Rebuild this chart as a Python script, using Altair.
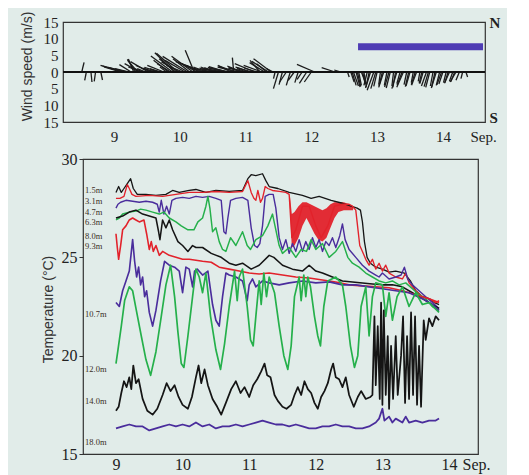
import altair as alt
import pandas as pd

# ---------------- top panel: wind sticks (origin day, east m/s, north m/s)
wind_sticks = [
    (8.51, 0.7, 2.9), (8.58, -0.5, -2.5), (8.65, 0.3, -3.0), (8.72, -0.4, -2.8), (8.80, 0.5, -2.4),
    (9.10, -5.0, 1.5), (9.13, -6.0, 1.8), (9.16, -7.2, 2.0), (9.19, -5.5, 1.4), (9.22, -4.0, 1.0),
    (9.26, -3.5, 2.2), (9.30, -1.6, 3.9), (9.33, -2.5, 3.8), (9.36, -3.0, 3.5), (9.39, -4.5, 2.5),
    (9.42, -4.0, 1.5), (9.45, -3.5, 1.3), (9.48, -2.5, 1.0), (9.52, -5.3, 3.1), (9.56, -4.5, 2.0),
    (9.60, -3.0, 1.2), (9.63, -3.8, 1.0), (9.66, -2.0, 0.8), (9.69, -4.5, 1.4), (9.72, -3.5, 1.0),
    (9.76, -5.0, 2.0), (9.80, -2.0, 1.5), (9.83, -4.5, 3.5), (9.86, -4.0, 2.5), (9.89, -6.5, 4.8),
    (9.92, -5.9, 5.75), (9.94, -5.0, 4.0), (9.97, -6.4, 5.6), (10.00, -5.5, 3.0), (10.05, -5.0, 2.0),
    (10.08, -6.0, 3.5), (10.12, -7.5, 4.7), (10.15, -5.0, 4.0), (10.20, -6.4, 4.7), (10.22, -2.7, 6.5),
    (10.26, -5.5, 3.0), (10.30, -4.0, 2.0), (10.33, -6.0, 2.5), (10.37, -8.5, 3.1), (10.41, -4.0, 1.5),
    (10.45, -3.0, 1.2), (10.48, -5.0, 1.0), (10.52, -4.0, 1.5), (10.55, -3.5, 1.3), (10.58, -5.0, 1.0),
    (10.62, -4.5, 1.0), (10.65, -6.0, 1.0), (10.68, -5.0, 1.4), (10.72, -5.5, 1.6), (10.75, -6.0, 1.2),
    (10.78, -4.0, 2.0), (10.82, -0.4, 4.3), (10.85, -5.0, 1.8), (10.88, -6.0, 1.5), (10.92, -3.5, 1.5),
    (10.95, -4.5, 1.8), (10.99, -5.0, 1.2), (11.02, -3.0, 1.0), (11.06, -4.0, 1.4), (11.10, -5.0, 1.5),
    (11.14, -6.0, 2.5), (11.18, -4.0, 1.2), (11.22, -3.0, 3.5), (11.25, -5.5, 2.0), (11.29, -4.5, 2.8),
    (11.32, -3.0, 2.5), (11.35, -5.0, 3.2), (11.39, -5.3, 4.0), (11.42, -2.0, 1.0),
    (11.45, -0.5, -2.0), (11.50, -1.5, -5.0), (11.56, -1.0, -3.8), (11.62, -2.0, -3.0), (11.68, -1.2, -4.0),
    (11.74, -1.8, -2.5), (11.80, -1.0, -3.2), (11.86, -1.5, -2.2), (11.93, -2.2, -3.4), (12.00, -2.1, -3.0),
    (12.05, -5.3, 2.3), (12.36, -4.0, 1.3), (12.45, -2.0, 0.6),
    (12.55, 0.5, -1.5), (12.60, 1.0, -3.0), (12.62, 1.2, -4.0), (12.64, 1.5, -4.2), (12.68, 1.2, -4.5),
    (12.70, 1.0, -4.3), (12.72, 0.8, -4.0), (12.76, 1.5, -3.8), (12.78, 0.8, -3.7), (12.80, 0.5, -3.5),
    (12.85, -1.0, -4.0), (12.88, -1.0, -4.5), (12.90, -1.5, -4.8), (12.95, -2.0, -5.5), (12.98, -1.5, -5.0),
    (13.00, -1.0, -4.3), (13.05, -0.5, -3.8), (13.08, -1.0, -4.2), (13.10, -1.5, -4.6), (13.15, -0.8, -4.0),
    (13.18, -1.3, -4.5), (13.20, -1.2, -4.8), (13.25, -0.5, -4.2), (13.28, -0.8, -4.6), (13.30, -1.5, -5.0),
    (13.35, -1.0, -3.5), (13.38, -1.5, -4.0), (13.40, -2.0, -4.6), (13.45, -0.8, -3.8), (13.48, -1.0, -4.4),
    (13.50, -1.2, -4.2), (13.55, -0.6, -3.2), (13.58, -1.2, -3.8), (13.60, -1.5, -4.0), (13.65, -0.5, -2.8),
    (13.68, -0.8, -3.4), (13.70, -1.0, -3.5), (13.75, -1.5, -4.2), (13.78, -1.3, -4.4), (13.80, -1.2, -4.6),
    (13.85, -0.8, -4.2), (13.88, -1.0, -4.5), (13.90, -1.5, -4.8), (13.95, -1.0, -4.0), (13.98, -1.4, -3.8),
    (14.00, -1.2, -3.6), (14.05, -0.8, -3.2), (14.08, -1.0, -3.2), (14.10, -1.5, -3.4), (14.15, -1.0, -2.8),
    (14.18, -1.2, -2.9), (14.20, -1.8, -3.0), (14.25, -1.0, -2.5), (14.30, -0.5, -2.0), (14.35, 0.5, -1.5),
]
bar_start = [12.71]
bar_end = [14.61]
bar_level = [7.6]

# ---------------- bottom panel: temperature at depth
depths = ["1.5m", "3.1m", "4.7m", "6.3m", "8.0m", "9.3m", "10.7m", "12.0m", "14.0m", "18.0m"]
depth_colors = ["#151515", "#e2222b", "#4a2d9c", "#25b04b", "#151515",
                "#e2222b", "#4a2d9c", "#25b04b", "#151515", "#4a2d9c"]
depth_widths = [1.3, 1.8, 2.0, 2.4, 1.3, 2.2, 2.2, 2.4, 1.5, 2.2]
label_temps = [28.4, 27.86, 27.3, 26.8, 26.1, 25.6, 22.1, 19.3, 17.7, 15.6]

s_1_5 = [(9.0,28.3),(9.04,28.6),(9.08,28.3),(9.12,28.5),(9.18,28.8),(9.22,29.0),(9.26,28.5),(9.32,28.2),
         (9.45,28.2),(9.6,28.15),(9.75,28.2),(9.85,28.4),(9.95,28.3),(10.1,28.4),(10.2,28.45),(10.35,28.3),
         (10.5,28.4),(10.7,28.35),(10.9,28.4),(10.98,29.0),(11.03,29.2),(11.1,29.15),(11.2,29.25),(11.25,28.9),
         (11.3,28.6),(11.43,28.5),(11.6,28.3),(11.8,28.15),(11.93,28.0),(12.05,28.1),(12.23,27.9),(12.4,27.75),
         (12.53,27.6),(12.62,27.5),(12.67,27.4),(12.7,26.8),(12.73,25.8),(12.77,25.0),(12.82,24.7),(12.9,24.5),
         (13.0,24.4),(13.1,24.25),(13.2,24.3),(13.33,24.2),(13.42,23.8),(13.5,23.3),(13.6,23.0),(13.7,22.9),
         (13.78,22.7),(13.85,22.6)]
s_3_1 = [(9.0,28.0),(9.06,28.0),(9.12,28.1),(9.17,28.7),(9.2,28.5),(9.24,28.2),(9.3,28.1),(9.5,28.15),
         (9.7,28.1),(9.9,28.2),(10.1,28.3),(10.3,28.3),(10.5,28.35),(10.7,28.3),(10.9,28.35),(10.98,28.9),
         (11.03,28.3),(11.07,28.0),(11.1,27.9),(11.13,28.4),(11.17,27.8),(11.2,28.0),(11.24,28.6),(11.28,28.5),
         (11.35,28.4),(11.45,28.35),(11.55,28.3),(11.6,28.2),(11.64,26.0),(11.7,26.4),(11.8,27.6),(11.9,27.6),
         (12.0,26.6),(12.08,26.0),(12.18,26.6),(12.28,27.6),(12.4,27.7),(12.5,27.7),(12.55,27.6),(12.6,27.4),
         (12.63,26.5),(12.66,25.6),(12.7,25.3),(12.75,24.9),(12.8,24.6),(12.85,24.9),(12.9,24.4),(12.95,24.7),
         (13.0,24.3),(13.05,24.6),(13.1,24.2),(13.2,24.0),(13.3,23.9),(13.35,24.2),(13.4,23.7),(13.5,23.3),
         (13.6,23.0),(13.7,22.9),(13.8,22.7),(13.85,22.8)]
# spread of the noisy 3.1 m record on 11.6-12.6 Sep.
band_t = [11.61, 11.64, 11.68, 11.74, 11.8, 11.86, 11.92, 11.98, 12.04, 12.1, 12.16, 12.22, 12.28, 12.34, 12.42, 12.5, 12.56]
band_hi = [28.2, 27.2, 27.3, 27.6, 27.8, 27.8, 27.7, 27.6, 27.5, 27.4, 27.5, 27.7, 27.8, 27.8, 27.8, 27.7, 27.6]
band_lo = [27.6, 25.5, 25.6, 26.0, 26.6, 27.0, 26.6, 26.2, 25.9, 25.8, 26.0, 26.5, 27.0, 27.3, 27.4, 27.4, 27.4]

s_4_7 = [(9.0,27.5),(9.03,27.7),(9.07,27.8),(9.15,27.9),(9.25,27.85),(9.35,27.8),(9.45,27.85),(9.55,27.8),
         (9.62,27.7),(9.65,27.3),(9.68,27.9),(9.72,27.2),(9.76,27.6),(9.8,27.2),(9.84,27.9),(9.9,28.0),
         (10.0,28.05),(10.1,28.0),(10.2,28.1),(10.3,28.05),(10.4,28.1),(10.5,28.0),(10.58,27.9),(10.62,26.3),
         (10.65,26.2),(10.68,27.0),(10.72,27.9),(10.8,28.0),(10.9,28.05),(10.98,27.9),(11.03,26.5),(11.08,25.6),
         (11.12,25.5),(11.16,25.7),(11.2,26.6),(11.24,28.1),(11.3,28.2),(11.36,28.2),(11.4,27.5),(11.45,26.0),
         (11.5,25.4),(11.55,25.9),(11.6,25.2),(11.65,25.7),(11.7,25.3),(11.75,25.9),(11.8,25.3),(11.85,25.8),
         (11.9,25.4),(11.95,26.0),(12.0,25.5),(12.05,25.9),(12.1,25.3),(12.15,25.8),(12.2,25.6),(12.25,26.0),
         (12.3,25.5),(12.36,26.1),(12.4,26.7),(12.44,25.9),(12.5,25.4),(12.6,25.0),(12.7,24.6),(12.8,24.3),
         (12.9,24.1),(12.95,24.0),(13.0,24.2),(13.1,23.9),(13.2,24.0),(13.28,24.1),(13.33,24.5),(13.38,23.9),
         (13.45,23.6),(13.55,23.3),(13.65,23.0),(13.75,22.7),(13.85,22.4)]
s_6_3 = [(9.0,26.9),(9.05,27.0),(9.1,27.2),(9.2,27.3),(9.3,27.35),(9.37,27.45),(9.45,27.4),(9.55,27.3),
         (9.65,27.2),(9.72,27.3),(9.8,27.0),(9.9,26.8),(9.98,26.6),(10.08,26.4),(10.17,26.4),(10.23,26.8),
         (10.3,27.0),(10.35,27.6),(10.38,28.1),(10.41,27.5),(10.45,26.3),(10.5,26.5),(10.55,25.8),(10.6,25.4),
         (10.65,25.3),(10.72,26.0),(10.8,25.6),(10.9,26.3),(10.97,25.6),(11.02,25.4),(11.1,25.9),(11.2,26.1),
         (11.28,26.6),(11.35,27.2),(11.4,26.4),(11.45,25.6),(11.5,25.2),(11.6,25.5),(11.7,25.0),(11.78,25.4),
         (11.86,25.3),(11.93,25.9),(12.0,25.4),(12.1,25.7),(12.2,25.0),(12.3,25.3),(12.4,25.8),(12.48,25.0),
         (12.55,24.7),(12.65,24.5),(12.75,24.2),(12.85,24.0),(12.95,23.8),(13.05,23.7),(13.15,23.8),(13.25,23.6),
         (13.35,23.7),(13.45,23.4),(13.55,23.1),(13.65,22.9),(13.75,22.5),(13.85,22.3)]
s_8_0 = [(9.0,27.0),(9.1,27.1),(9.2,27.3),(9.3,27.4),(9.4,27.2),(9.5,27.1),(9.6,27.0),(9.64,26.3),
         (9.66,25.9),(9.7,26.9),(9.75,26.5),(9.8,26.9),(9.85,26.4),(9.93,25.8),(10.0,25.6),(10.08,25.3),
         (10.15,25.6),(10.2,25.5),(10.3,25.5),(10.43,25.2),(10.58,25.0),(10.7,24.7),(10.8,24.6),(10.9,24.7),
         (11.03,24.4),(11.15,24.6),(11.3,25.1),(11.37,25.0),(11.5,24.6),(11.65,24.4),(11.8,24.3),(11.9,24.6),
         (12.0,24.3),(12.1,24.2),(12.25,24.0),(12.4,23.8),(12.55,23.75),(12.7,23.7),(12.85,23.65),(13.0,23.6),
         (13.15,23.6),(13.3,23.5),(13.45,23.2),(13.6,22.9),(13.75,22.6),(13.85,22.4)]
s_9_3 = [(9.0,26.2),(9.02,25.5),(9.04,24.9),(9.07,25.6),(9.1,26.4),(9.15,26.6),(9.2,26.9),(9.25,27.0),
         (9.3,26.9),(9.35,26.8),(9.42,26.9),(9.46,26.2),(9.5,25.4),(9.53,25.8),(9.56,25.3),(9.6,25.6),
         (9.65,25.1),(9.7,25.3),(9.8,25.1),(9.9,25.0),(10.0,24.9),(10.1,24.9),(10.2,24.85),(10.3,24.8),
         (10.43,24.75),(10.55,24.5),(10.7,24.4),(10.85,24.3),(11.0,24.2),(11.15,24.15),(11.3,24.2),(11.5,24.1),
         (11.7,24.0),(11.9,23.95),(12.1,23.85),(12.3,23.75),(12.5,23.6),(12.7,23.55),(12.9,23.5),(13.1,23.45),
         (13.3,23.3),(13.5,23.1),(13.7,22.9),(13.85,22.7)]
s_10_7 = [(9.0,22.7),(9.05,22.5),(9.1,23.3),(9.15,23.8),(9.2,24.3),(9.25,25.9),(9.28,24.8),(9.31,24.0),
          (9.34,24.5),(9.37,23.6),(9.4,24.0),(9.43,23.0),(9.46,23.3),(9.5,22.2),(9.55,21.5),(9.6,22.3),
          (9.67,23.8),(9.73,24.8),(9.8,24.6),(9.88,24.5),(9.95,24.3),(10.0,23.2),(10.05,24.5),(10.1,24.4),
          (10.15,23.5),(10.18,24.3),(10.22,24.4),(10.3,24.1),(10.38,24.3),(10.45,22.6),(10.5,21.8),(10.55,21.5),
          (10.6,23.0),(10.65,24.2),(10.7,24.1),(10.8,24.0),(10.9,23.8),(10.97,22.8),(11.0,23.6),(11.05,23.9),
          (11.1,23.5),(11.2,23.8),(11.3,23.7),(11.45,23.6),(11.6,23.7),(11.8,23.8),(12.0,23.7),(12.2,23.75),
          (12.4,23.6),(12.6,23.6),(12.8,23.5),(13.0,23.4),(13.2,23.3),(13.4,23.2),(13.6,22.9),(13.75,22.6),
          (13.85,22.3)]
s_12_0 = [(9.0,19.6),(9.03,20.3),(9.08,21.5),(9.13,22.8),(9.2,23.5),(9.25,23.3),(9.3,22.4),(9.38,21.0),
          (9.45,19.8),(9.52,19.0),(9.6,20.2),(9.68,22.0),(9.75,23.6),(9.82,24.6),(9.88,23.0),(9.93,21.2),
          (9.98,19.6),(10.02,19.4),(10.08,21.0),(10.15,23.0),(10.2,24.4),(10.25,24.0),(10.3,23.2),(10.35,24.2),
          (10.42,22.0),(10.5,20.3),(10.57,19.3),(10.63,20.6),(10.7,22.5),(10.78,24.3),(10.82,22.8),(10.85,24.0),
          (10.9,24.4),(10.97,22.5),(11.02,20.8),(11.06,20.5),(11.1,22.0),(11.15,23.8),(11.18,22.6),(11.22,24.2),
          (11.26,23.0),(11.3,24.0),(11.38,23.2),(11.45,21.5),(11.52,20.0),(11.58,19.3),(11.63,20.5),(11.68,23.0),
          (11.75,24.0),(11.78,22.8),(11.82,24.1),(11.85,23.0),(11.88,24.0),(11.92,23.5),(11.98,22.0),(12.03,21.0),
          (12.07,20.5),(12.12,22.5),(12.18,23.8),(12.3,24.0),(12.4,23.6),(12.45,22.5),(12.52,20.5),(12.58,19.4),
          (12.63,20.0),(12.68,22.5),(12.75,23.5),(12.8,21.0),(12.85,23.0),(12.9,23.7),(13.0,23.6),(13.05,22.0),
          (13.1,23.2),(13.15,21.8),(13.22,23.0),(13.3,23.5),(13.4,22.5),(13.5,23.2),(13.6,22.6),(13.7,22.7),
          (13.85,22.2)]
s_14_0 = [(9.0,17.2),(9.04,17.4),(9.08,18.1),(9.12,18.7),(9.16,18.4),(9.2,18.9),(9.23,18.3),(9.26,19.5),
          (9.3,18.6),(9.34,18.8),(9.4,17.8),(9.47,17.2),(9.55,17.0),(9.62,17.3),(9.7,18.0),(9.76,18.6),
          (9.82,18.2),(9.88,18.5),(9.94,17.9),(10.0,17.5),(10.08,17.3),(10.14,17.9),(10.2,18.9),(10.24,19.5),
          (10.28,18.6),(10.33,19.3),(10.38,18.5),(10.45,17.8),(10.52,17.4),(10.58,17.0),(10.65,17.6),(10.73,18.3),
          (10.8,18.7),(10.87,18.1),(10.93,18.4),(11.0,17.9),(11.06,18.5),(11.12,18.8),(11.18,19.2),(11.23,19.6),
          (11.27,19.0),(11.32,18.9),(11.38,18.0),(11.43,17.7),(11.5,17.4),(11.56,17.3),(11.63,17.5),(11.68,18.0),
          (11.73,18.4),(11.78,18.0),(11.83,18.7),(11.88,18.3),(11.93,18.1),(11.98,17.6),(12.03,17.3),(12.08,17.9),
          (12.13,18.2),(12.18,18.6),(12.23,19.3),(12.26,19.6),(12.3,18.9),(12.35,18.8),(12.4,18.4),(12.45,18.9),
          (12.5,18.0),(12.57,17.4),(12.63,17.9),(12.68,18.2),(12.75,17.8),(12.82,17.9),(12.85,18.0),(12.88,22.0),
          (12.9,18.5),(12.93,21.5),(12.96,17.8),(12.98,22.7),(13.0,17.5),(13.02,22.3),(13.05,18.0),(13.08,21.0),
          (13.1,17.3),(13.13,20.5),(13.16,17.8),(13.2,21.0),(13.23,18.0),(13.28,20.0),(13.31,22.0),(13.34,17.6),
          (13.37,21.0),(13.4,17.8),(13.43,22.2),(13.46,18.0),(13.49,22.0),(13.52,17.5),(13.55,20.5),(13.58,17.4),
          (13.62,21.8),(13.65,20.8),(13.7,21.9),(13.75,21.5),(13.8,22.0),(13.85,21.8)]
s_18_0 = [(9.0,16.3),(9.1,16.4),(9.2,16.5),(9.3,16.4),(9.4,16.4),(9.5,16.2),(9.6,16.3),(9.7,16.4),
          (9.8,16.5),(9.9,16.4),(10.0,16.5),(10.1,16.4),(10.2,16.6),(10.3,16.4),(10.4,16.5),(10.5,16.3),
          (10.6,16.4),(10.7,16.4),(10.8,16.5),(10.9,16.4),(11.0,16.5),(11.1,16.6),(11.2,16.7),(11.3,16.6),
          (11.4,16.5),(11.5,16.5),(11.6,16.4),(11.7,16.5),(11.8,16.4),(11.9,16.3),(12.0,16.3),(12.1,16.4),
          (12.2,16.4),(12.3,16.5),(12.4,16.4),(12.5,16.4),(12.6,16.3),(12.7,16.3),(12.8,16.4),(12.9,16.6),
          (12.95,16.8),(13.0,17.3),(13.03,16.7),(13.1,16.9),(13.15,16.6),(13.2,16.8),(13.3,16.6),(13.35,16.9),
          (13.4,16.6),(13.5,16.7),(13.6,16.6),(13.7,16.7),(13.8,16.7),(13.85,16.8)]
series = [s_1_5, s_3_1, s_4_7, s_6_3, s_8_0, s_9_3, s_10_7, s_12_0, s_14_0, s_18_0]

# ---------------- layout constants
TOP_W, TOP_H = 422, 100
BOT_W, BOT_H = 395, 295
top_dom = [8.225, 14.64]
bot_dom = [8.505, 14.435]
days_per_ms = (TOP_H / 30.0) / (TOP_W / (top_dom[1] - top_dom[0]))

SERIF = "Liberation Serif"
SANS = "Liberation Sans"
INK = "#222222"
FRAME = alt.ViewBackground(stroke="#333333", strokeWidth=1.2)

wind_df = pd.DataFrame(wind_sticks, columns=["t", "u", "v"])
wind_df["tip"] = wind_df["t"] + wind_df["u"] * days_per_ms
wind_df["zero"] = 0.0
bar_df = pd.DataFrame({"s": bar_start, "e": bar_end, "lev": bar_level})
zero_df = pd.DataFrame({"z": [0.0]})

rows = []
for d, s in zip(depths, series):
    for t, T in s:
        rows.append({"t": t, "T": T, "depth": d})
temp_df = pd.DataFrame(rows)
band_df = pd.DataFrame({"t": band_t, "T": band_hi, "lo": band_lo})
label_df = pd.DataFrame({"label": depths, "T": label_temps})

# ---------------- top panel
top_x = alt.Scale(domain=top_dom, nice=False, zero=False)
top_y = alt.Scale(domain=[-15, 15], nice=False, zero=False)
top_xaxis = alt.Axis(values=[9, 10, 11, 12, 13, 14], format="d", ticks=False, domain=False, grid=False,
                     labelPadding=7, labelFont=SERIF, labelFontSize=15, labelColor=INK,
                     title="Sep.", titleX=420, titleY=7, titleAlign="center", titleBaseline="top",
                     titleFont=SERIF, titleFontSize=15, titleFontWeight="normal", titleColor=INK)

sticks = alt.Chart(wind_df).mark_rule(color="#1c1c1c", strokeWidth=1.3).encode(
    x=alt.X("t:Q", scale=top_x, axis=top_xaxis),
    x2="tip:Q",
    y=alt.Y("zero:Q", scale=top_y, axis=alt.Axis(
        values=[-15, -10, -5, 0, 5, 10, 15], labelExpr="'' + abs(datum.value)", ticks=False,
        domain=False, grid=False, labelOverlap=False, labelPadding=5, labelFont=SERIF,
        labelFontSize=15, labelColor=INK, title="Wind speed (m/s)", titleFont=SANS,
        titleFontSize=14, titleFontWeight="normal", titleColor="#333333", titleX=-36, titleY=44,
        titleBaseline="middle", titleAlign="center")),
    y2="v:Q",
)
zero = alt.Chart(zero_df).mark_rule(color="#111111", strokeWidth=2).encode(
    y=alt.Y("z:Q", scale=top_y, axis=alt.Axis(
        orient="right", values=[-13.5, 15], labelExpr="datum.value > 0 ? 'N' : 'S'", ticks=False,
        domain=False, grid=False, labelOverlap=False, labelPadding=4, labelFont=SERIF,
        labelFontSize=15, labelFontWeight="bold", labelColor=INK, title=None)),
)
bar = alt.Chart(bar_df).mark_rule(color="#4e3cb4", strokeWidth=7).encode(
    x=alt.X("s:Q", scale=top_x, axis=top_xaxis),
    x2="e:Q",
    y=alt.Y("lev:Q", scale=top_y, axis=None),
)
top = alt.layer(sticks, zero, bar).resolve_axis(y="independent").properties(
    width=TOP_W, height=TOP_H, view=FRAME)

# ---------------- bottom panel
bot_x = alt.Scale(domain=bot_dom, nice=False, zero=False)
bot_y = alt.Scale(domain=[15, 30], nice=False, zero=False)
bot_xaxis = alt.Axis(values=[9, 10, 11, 12, 13, 14], format="d", ticks=False, domain=False, grid=False,
                     labelPadding=2, labelFont=SERIF, labelFontSize=16, labelColor=INK,
                     title="Sep.", titleX=393, titleY=2, titleAlign="center", titleBaseline="top",
                     titleFont=SERIF, titleFontSize=16, titleFontWeight="normal", titleColor=INK)
bot_yaxis = alt.Axis(values=[15, 20, 25, 30], ticks=True, tickSize=4, tickColor="#333333", domain=False,
                     grid=False, labelPadding=2, labelFont=SERIF, labelFontSize=16, labelColor=INK,
                     title="Temperature (°C)", titleFont=SANS, titleFontSize=14, titleFontWeight="normal",
                     titleColor="#333333", titleX=-35, titleY=150, titleBaseline="middle",
                     titleAlign="center")
band = alt.Chart(band_df).mark_area(color="#e2222b", opacity=0.95, clip=True).encode(
    x=alt.X("t:Q", scale=bot_x, axis=bot_xaxis),
    y=alt.Y("T:Q", scale=bot_y, axis=bot_yaxis),
    y2="lo:Q",
)
lines = alt.Chart(temp_df).mark_line(clip=True, strokeJoin="round").encode(
    x=alt.X("t:Q", scale=bot_x, axis=bot_xaxis),
    y=alt.Y("T:Q", scale=bot_y, axis=bot_yaxis),
    color=alt.Color("depth:N", scale=alt.Scale(domain=depths, range=depth_colors), legend=None),
    strokeWidth=alt.StrokeWidth("depth:N", scale=alt.Scale(domain=depths, range=depth_widths), legend=None),
)
labels = alt.Chart(label_df).mark_text(align="left", baseline="middle", font=SERIF, fontSize=8.5,
                                       color="#3a2e25").encode(
    x=alt.value(2),
    y=alt.Y("T:Q", scale=bot_y, axis=bot_yaxis),
    text="label:N",
)
bottom = alt.layer(band, lines, labels).properties(width=BOT_W, height=BOT_H, view=FRAME)

spacer = alt.Chart(pd.DataFrame({"a": [0]})).mark_point(opacity=0).encode(
    x=alt.value(0), y=alt.value(0)).properties(width=20, height=BOT_H)

chart = alt.vconcat(
    top,
    alt.hconcat(spacer, bottom, spacing=0, bounds="flush"),
    spacing=37, bounds="flush",
).properties(
    background="#e1ece9",
    padding={"left": 11, "top": 2, "right": 6, "bottom": 2},
).configure_view(strokeWidth=0)

chart.save("out.html", embed_options={"renderer": "svg", "actions": False})
